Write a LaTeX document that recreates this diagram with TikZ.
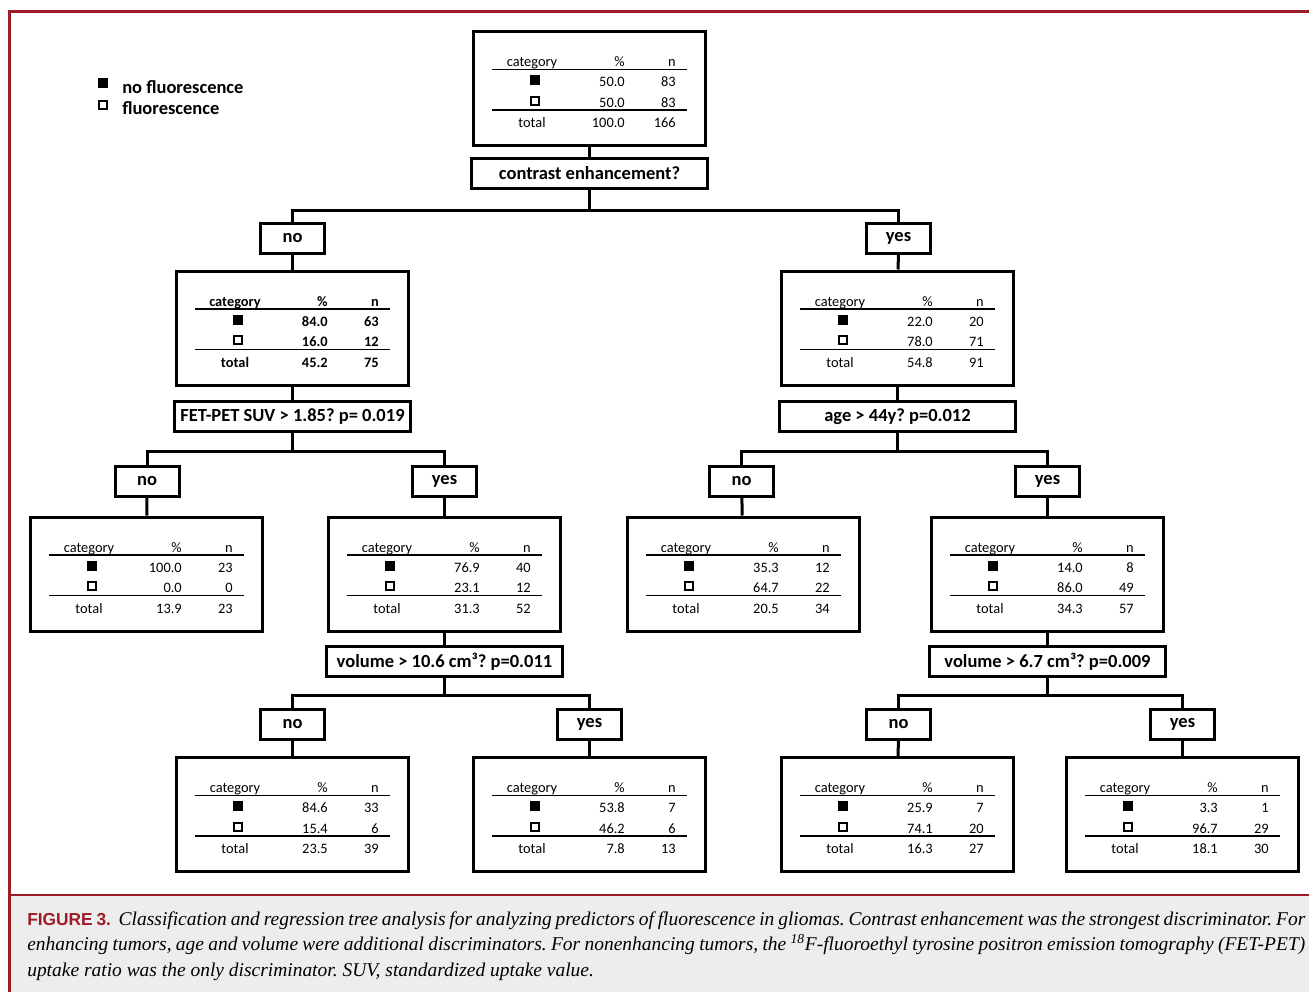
\documentclass[tikz,border=0pt]{standalone}
\usepackage{fontspec}
\setmainfont{Carlito}
\newfontfamily\capserif{Liberation Serif}
\newfontfamily\capsans{Liberation Sans}
\usetikzlibrary{positioning}
\definecolor{framered}{RGB}{158,27,40}
\definecolor{capgray}{RGB}{237,237,237}
\newdimen\px \px=0.75pt
\newcommand{\tabsize}{\fontsize{14.4\px}{16\px}\selectfont}
\newcommand{\boxsize}{\fontsize{18.5\px}{20\px}\selectfont}
\frenchspacing

\tikzset{
  box/.style={draw, line width=3\px, inner sep=0pt, font=\bfseries\boxsize},
  condbox/.style={box, minimum width=236\px, minimum height=30\px},
  ansbox/.style={box, minimum width=64\px, minimum height=30\px},
  tblbox/.style={box, minimum width=232\px, minimum height=114\px},
  cell/.style={inner sep=0pt, font=\tabsize},
  rule/.style={line width=1.5\px},
  link/.style={line width=3\px},
  captext/.style={inner sep=0pt, font=\capserif\itshape\fontsize{14.6pt}{19pt}\selectfont},
}

% one result table: name, centre, %/n of each row, total, weight
\newcommand{\cattable}[9]{%
  \begin{scope}[shift={(#2)}, cell/.append style={font=#9\tabsize}]
    \node[tblbox] (#1) at (0,0) {};
    \node[cell, anchor=base] (#1-c) at (-57.5,-22) {category};
    \node[cell, anchor=base east] (#1-p) at (35.5,-22) {\%};
    \node[cell, anchor=base east] (#1-n) at (86.5,-22) {n};
    \node[cell, anchor=base east] (#1-p1) at (35.5,-2) {#3};
    \node[cell, anchor=base east] (#1-n1) at (86.5,-2) {#4};
    \node[cell, anchor=base east] (#1-p2) at (35.5,18.5) {#5};
    \node[cell, anchor=base east] (#1-n2) at (86.5,18.5) {#6};
    \node[cell, anchor=base] (#1-t) at (-57.5,39) {total};
    \node[cell, anchor=base east] (#1-pt) at (35.5,39) {#7};
    \node[cell, anchor=base east] (#1-nt) at (86.5,39) {#8};
    \draw[rule] (-97.5,-19) -- (97.5,-19);
    \draw[rule] (-97.5,21.5) -- (97.5,21.5);
    \fill (-60,-13.5) rectangle (-50,-3.5);
    \draw[line width=2\px] (-59,8) rectangle (-51,16);
  \end{scope}}

\begin{document}
\begin{tikzpicture}[x=0.75pt, y=-0.75pt]
\useasboundingbox (0,0) rectangle (1309,992);
\fill[capgray] (9,896) rectangle (1309,992);
\draw[framered, line width=3\px] (1309,11) -- (9,11) -- (9,992);
\draw[framered, line width=2\px] (9,895) -- (1309,895);

% legend
\node[fill, inner sep=0pt, minimum size=10\px] (keyfill) at (103,82.5) {};
\node[draw, line width=2\px, inner sep=0pt, minimum size=8\px] (keyopen) at (102.5,104.5) {};
\node[anchor=base west, inner sep=0pt, font=\bfseries\boxsize] (keyno) at (122,93) {no fluorescence};
\node[anchor=base west, inner sep=0pt, font=\bfseries\boxsize] (keyyes) at (122,114) {fluorescence};

% tables
\cattable{t0}{589.5,88.5}{50.0}{83}{50.0}{83}{100.0}{166}{}
\cattable{t1a}{292.5,328}{84.0}{63}{16.0}{12}{45.2}{75}{\bfseries}
\cattable{t1b}{897.5,328}{22.0}{20}{78.0}{71}{54.8}{91}{}
\cattable{t2a}{146.5,574}{100.0}{23}{0.0}{0}{13.9}{23}{}
\cattable{t2b}{444.5,574}{76.9}{40}{23.1}{12}{31.3}{52}{}
\cattable{t2c}{743.5,574}{35.3}{12}{64.7}{22}{20.5}{34}{}
\cattable{t2d}{1047.5,574}{14.0}{8}{86.0}{49}{34.3}{57}{}
\cattable{t3a}{292.5,814.5}{84.6}{33}{15.4}{6}{23.5}{39}{}
\cattable{t3b}{589.5,814.5}{53.8}{7}{46.2}{6}{7.8}{13}{}
\cattable{t3c}{897.5,814.5}{25.9}{7}{74.1}{20}{16.3}{27}{}
\cattable{t3d}{1182.5,814.5}{3.3}{1}{96.7}{29}{18.1}{30}{}

% questions
\node[condbox] (q0) at (589.5,173.5) {contrast enhancement?};
\node[condbox] (q1a) at (292.5,416.5) {FET-PET SUV > 1.85? p= 0.019};
\node[condbox] (q1b) at (897.5,416.5) {age > 44y? p=0.012};
\node[condbox] (q2b) at (444.5,661.5) {volume > 10.6 cm³? p=0.011};
\node[condbox] (q2d) at (1047.5,661.5) {volume > 6.7 cm³? p=0.009};

% answers
\foreach \nm/\xx/\yy/\txt in {a1/292.5/238.5/no, b1/898.5/238.5/yes,
    a2a/147/481/no, b2a/444.5/481/yes, a2b/741.5/481/no, b2b/1047.5/481/yes,
    a3b/292.5/724/no, b3b/589.5/724/yes, a3d/898.5/724/no, b3d/1182.5/724/yes}
  \node[ansbox] (\nm) at (\xx,\yy) {\txt};

% links
\draw[link] (t0) -- (q0);
\draw[link] (q0.south) -- ++(0,20.5) -| (a1.north);
\draw[link] (q0.south) -- ++(0,20.5) -| (b1.north);
\draw[link] (a1) -- (t1a);
\draw[link] (b1) -- (t1b);
\draw[link] (t1a) -- (q1a);
\draw[link] (t1b) -- (q1b);
\draw[link] (q1a.south) -- ++(0,18.5) -| (a2a.north);
\draw[link] (q1a.south) -- ++(0,18.5) -| (b2a.north);
\draw[link] (q1b.south) -- ++(0,18.5) -| (a2b.north);
\draw[link] (q1b.south) -- ++(0,18.5) -| (b2b.north);
\draw[link] (a2a) -- (t2a);
\draw[link] (b2a) -- (t2b);
\draw[link] (a2b) -- (t2c);
\draw[link] (b2b) -- (t2d);
\draw[link] (t2b) -- (q2b);
\draw[link] (t2d) -- (q2d);
\draw[link] (q2b.south) -- ++(0,17.5) -| (a3b.north);
\draw[link] (q2b.south) -- ++(0,17.5) -| (b3b.north);
\draw[link] (q2d.south) -- ++(0,17.5) -| (a3d.north);
\draw[link] (q2d.south) -- ++(0,17.5) -| (b3d.north);
\draw[link] (a3b) -- (t3a);
\draw[link] (b3b) -- (t3b);
\draw[link] (a3d) -- (t3c);
\draw[link] (b3d) -- (t3d);

% caption
\node[captext, anchor=base west] (cap1) at (27,925) {\makebox[1278\px][s]{{\capsans\upshape\bfseries\fontsize{13pt}{15pt}\selectfont\color{framered}FIGURE 3.}\ \ Classification and regression tree analysis for analyzing predictors of fluorescence in gliomas. Contrast enhancement was the strongest discriminator. For}};
\node[captext, anchor=base west] (cap2) at (27,950.5) {\makebox[1278\px][s]{enhancing tumors, age and volume were additional discriminators. For nonenhancing tumors, the \textsuperscript{18}F-fluoroethyl tyrosine positron emission tomography (FET-PET)}};
\node[captext, anchor=base west] (cap3) at (27,976) {uptake ratio was the only discriminator. SUV, standardized uptake value.};
\end{tikzpicture}
\end{document}
